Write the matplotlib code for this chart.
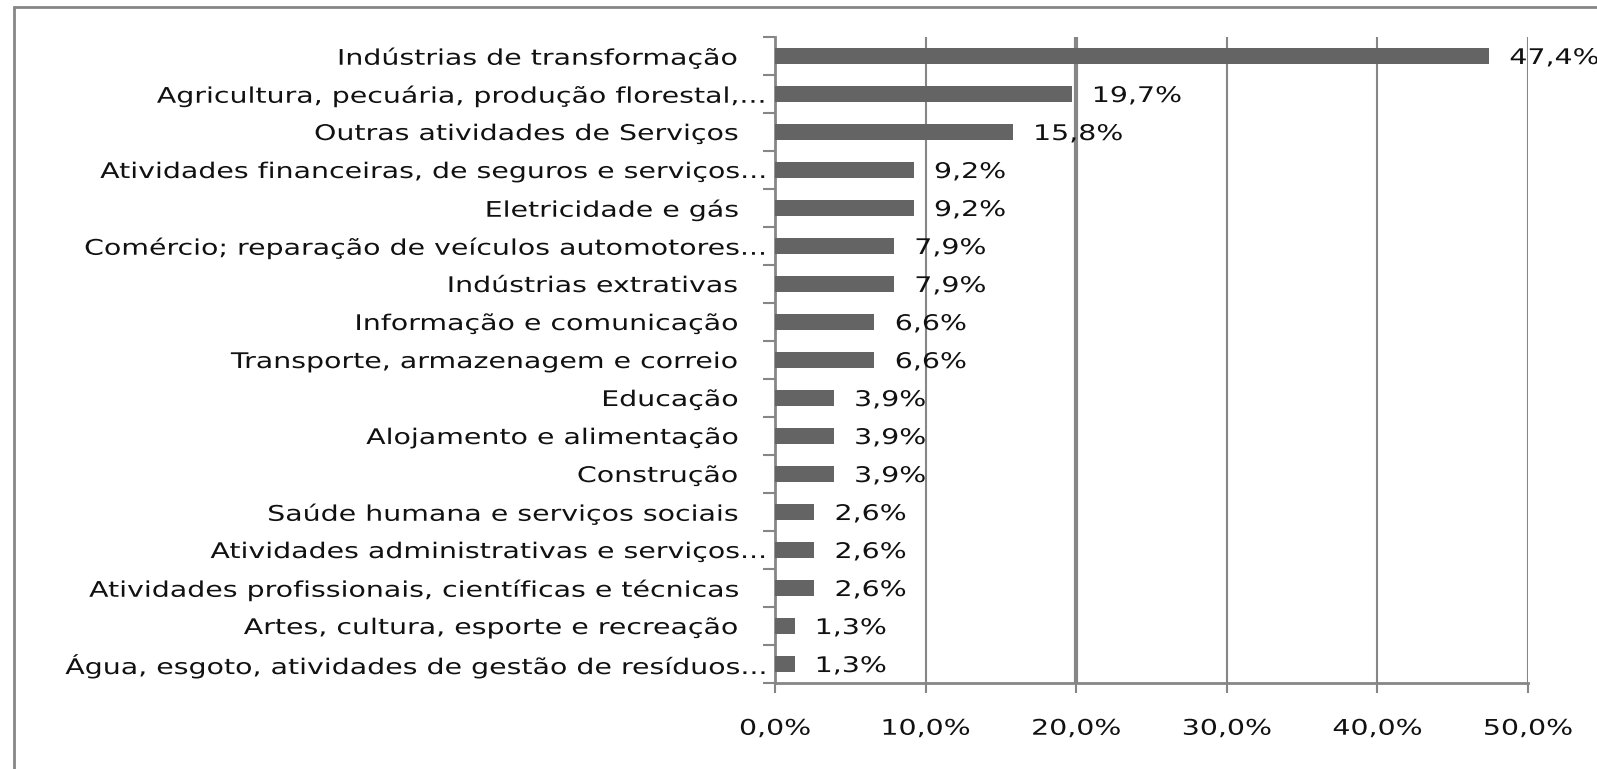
import matplotlib
matplotlib.use("Agg")
import matplotlib.pyplot as plt
from matplotlib.patches import Rectangle
from matplotlib.patheffects import AbstractPathEffect
from matplotlib.transforms import Affine2D, blended_transform_factory

# Setores e participação (%)
categories = [
    "Indústrias de transformação ",
    "Agricultura, pecuária, produção florestal,...",
    "Outras atividades de Serviços ",
    "Atividades financeiras, de seguros e serviços...",
    "Eletricidade e gás ",
    "Comércio; reparação de veículos automotores...",
    "Indústrias extrativas ",
    "Informação e comunicação ",
    "Transporte, armazenagem e correio ",
    "Educação ",
    "Alojamento e alimentação ",
    "Construção ",
    "Saúde humana e serviços sociais ",
    "Atividades administrativas e serviços...",
    "Atividades profissionais, científicas e técnicas ",
    "Artes, cultura, esporte e recreação ",
    "Água, esgoto, atividades de gestão de resíduos...",
]
values = [47.4, 19.7, 15.8, 9.2, 9.2, 7.9, 7.9, 6.6, 6.6, 3.9, 3.9, 3.9, 2.6, 2.6, 2.6, 1.3, 1.3]
xticks = [0, 10, 20, 30, 40, 50]

GRAY = '#868686'
FS = 15.5
SX = 1.32  # o texto original é bem espaçado na horizontal


class Stretch(AbstractPathEffect):
    """Alarga o texto na horizontal, mantendo um lado fixo."""
    def __init__(self, sx, anchor):
        super().__init__()
        self.sx = sx
        self.anchor = anchor

    def draw_path(self, renderer, gc, tpath, affine, rgbFace=None):
        bb = tpath.get_extents(affine)
        px = {'left': bb.x0, 'right': bb.x1, 'center': (bb.x0 + bb.x1) / 2}[self.anchor]
        aff = affine + Affine2D().translate(-px, 0).scale(self.sx, 1).translate(px, 0)
        renderer.draw_path(gc, tpath, aff, rgbFace)


plt.rcParams['font.family'] = ['DejaVu Sans']

fig = plt.figure(figsize=(15.97, 7.69), dpi=100)
ax = fig.add_axes([0.4853, 0.1118, 0.4715, 0.8401])

# moldura cinza do gráfico
fig.patches.append(Rectangle((14 / 1597, -0.1), 2, 1 - 7 / 769 + 0.1,
                             transform=fig.transFigure, fill=False,
                             edgecolor=GRAY, linewidth=2))

y = list(range(len(categories)))
ax.barh(y, values, height=0.4, color='#646464', zorder=3)
ax.set_ylim(len(categories) - 0.5, -0.5)
ax.set_xlim(0, 50)

# rótulos das categorias
trans = blended_transform_factory(ax.transAxes, ax.transData)
for yi, cat in zip(y, categories):
    gap = 37 if cat.endswith(' ') else 9
    ax.annotate(cat.rstrip(), (0, yi), xycoords=trans, xytext=(-gap * 0.72, 0),
                textcoords='offset points', ha='right', va='center_baseline',
                fontsize=FS, color='#111111', annotation_clip=False,
                path_effects=[Stretch(SX, 'right')])

# rótulos de dados
for yi, v in zip(y, values):
    ax.annotate(f"{v:.1f}%".replace('.', ','), (v, yi), xytext=(15, 0),
                textcoords='offset points', va='center_baseline', ha='left',
                fontsize=FS, color='#111111', zorder=4, annotation_clip=False,
                path_effects=[Stretch(SX, 'left')])

ax.set_yticks(y)
ax.set_yticklabels([])
ax.set_yticks([i + 0.5 for i in range(-1, len(categories))], minor=True)
ax.tick_params(axis='y', which='major', length=0)
ax.tick_params(axis='y', which='minor', length=8.5, color=GRAY, width=1.5)

ax.set_xticks(xticks)
ax.set_xticklabels([f"{t:.1f}%".replace('.', ',') for t in xticks], fontsize=FS,
                   color='#111111')
ax.tick_params(axis='x', length=7.2, color=GRAY, width=1.5, pad=18.5)
for lbl in ax.get_xticklabels():
    lbl.set_path_effects([Stretch(SX, 'center')])

for t in xticks[1:]:
    ax.axvline(t, color=GRAY, linewidth=3 if t == 20 else 1.5, zorder=1)

for s in ['top', 'right']:
    ax.spines[s].set_visible(False)
for s in ['left', 'bottom']:
    ax.spines[s].set_color(GRAY)
    ax.spines[s].set_linewidth(2)

fig.savefig("out.png", dpi=100)
